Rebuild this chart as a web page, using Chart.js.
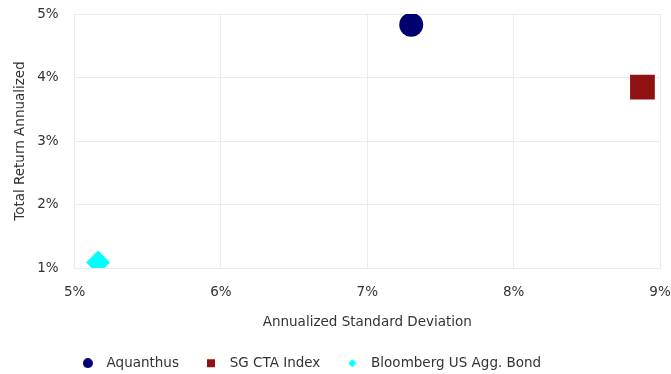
<!DOCTYPE html>
<html>
<head>
<meta charset="utf-8">
<script src="https://cdn.jsdelivr.net/npm/chart.js@4"></script>
<style>
    html, body { margin: 0; padding: 0; background: #fff; }
    #wrap { width: 671px; height: 374px; }
</style>
</head>
<body>
<div id="wrap"><canvas id="riskChart"></canvas></div>
<script>
// Risk / return data
const seriesNames = ['Aquanthus', 'SG CTA Index', 'Bloomberg US Agg. Bond'];
const stdDevValues = [7.30, 8.88, 5.16];   // x, annualized standard deviation (%)
const returnValues = [4.83, 3.85, 1.09];   // y, total return annualized (%)
const seriesColors = ['#000070', '#8f1212', '#00ffff'];
const seriesShapes = ['circle', 'rect', 'rectRot'];
const seriesRadius = [12, 17.5, 12];

const xTicks = [5, 6, 7, 8, 9];
const yTicks = [1, 2, 3, 4, 5];

const textColor = '#333333';
const gridColor = '#ebebeb';

Chart.defaults.font.family = '"DejaVu Sans", Verdana, sans-serif';
Chart.defaults.font.size = 13.5;
Chart.defaults.color = textColor;

function buildDatasets() {
    return seriesNames.map((name, i) => ({
        label: name,
        data: [{ x: stdDevValues[i], y: returnValues[i] }],
        pointStyle: seriesShapes[i],
        pointRadius: seriesRadius[i],
        pointHoverRadius: seriesRadius[i],
        backgroundColor: seriesColors[i],
        borderColor: seriesColors[i],
        borderWidth: 0,
        clip: 0
    }));
}

// Small legend icons, so the legend can keep a wider gap before the text
function legendIcon(shape, color) {
    const c = document.createElement('canvas');
    c.width = 10;
    c.height = 10;
    const g = c.getContext('2d');
    g.fillStyle = color;
    g.beginPath();
    if (shape === 'circle') {
        g.arc(5, 5, 5, 0, Math.PI * 2);
    } else if (shape === 'rect') {
        g.rect(1, 1, 8, 8);
    } else {
        g.moveTo(5, 1);
        g.lineTo(9, 5);
        g.lineTo(5, 9);
        g.lineTo(1, 5);
        g.closePath();
    }
    g.fill();
    return c;
}
const legendIcons = seriesShapes.map((s, i) => legendIcon(s, seriesColors[i]));

// the original legend sits a bit left of the page centre
const legendShift = {
    id: 'legendShift',
    afterLayout(chart) {
        chart.legend.left -= 33;
        chart.legend.right -= 33;
    }
};

const ctx = document.getElementById('riskChart').getContext('2d');
const riskChart = new Chart(ctx, {
    type: 'scatter',
    data: { datasets: buildDatasets() },
    plugins: [legendShift],
    options: {
        responsive: true,
        maintainAspectRatio: false,
        animation: false,
        layout: { autoPadding: false, padding: { top: 0, right: 0, left: 12, bottom: -6 } },
        scales: {
            x: {
                min: xTicks[0],
                max: xTicks[xTicks.length - 1],
                afterBuildTicks: axis => { axis.ticks = xTicks.map(v => ({ value: v })); },
                // tick padding would otherwise also push the right edge in
                afterFit: axis => { axis.paddingRight = 11; },
                ticks: {
                    padding: 16,
                    maxRotation: 0,
                    callback: value => value + '%'
                },
                grid: { color: gridColor, drawTicks: false, tickLength: 0 },
                border: { color: gridColor },
                title: {
                    display: true,
                    text: 'Annualized Standard Deviation',
                    padding: { top: -2, bottom: 6 }
                }
            },
            y: {
                min: yTicks[0],
                max: yTicks[yTicks.length - 1],
                afterBuildTicks: axis => { axis.ticks = yTicks.map(v => ({ value: v })); },
                afterFit: axis => { axis.paddingTop = 14; },
                ticks: {
                    padding: 16,
                    callback: value => value + '%'
                },
                grid: { color: gridColor, drawTicks: false, tickLength: 0 },
                border: { color: gridColor },
                title: {
                    display: true,
                    text: 'Total Return Annualized',
                    padding: { top: 0, bottom: -7 }
                }
            }
        },
        plugins: {
            tooltip: { enabled: false },
            legend: {
                position: 'bottom',
                labels: {
                    usePointStyle: true,
                    pointStyleWidth: 24,
                    boxHeight: 10,
                    padding: 20,
                    color: textColor,
                    generateLabels: chart => Chart.defaults.plugins.legend.labels.generateLabels(chart)
                        .map((item, i) => ({ ...item, pointStyle: legendIcons[i] }))
                }
            }
        }
    }
});
</script>
</body>
</html>
